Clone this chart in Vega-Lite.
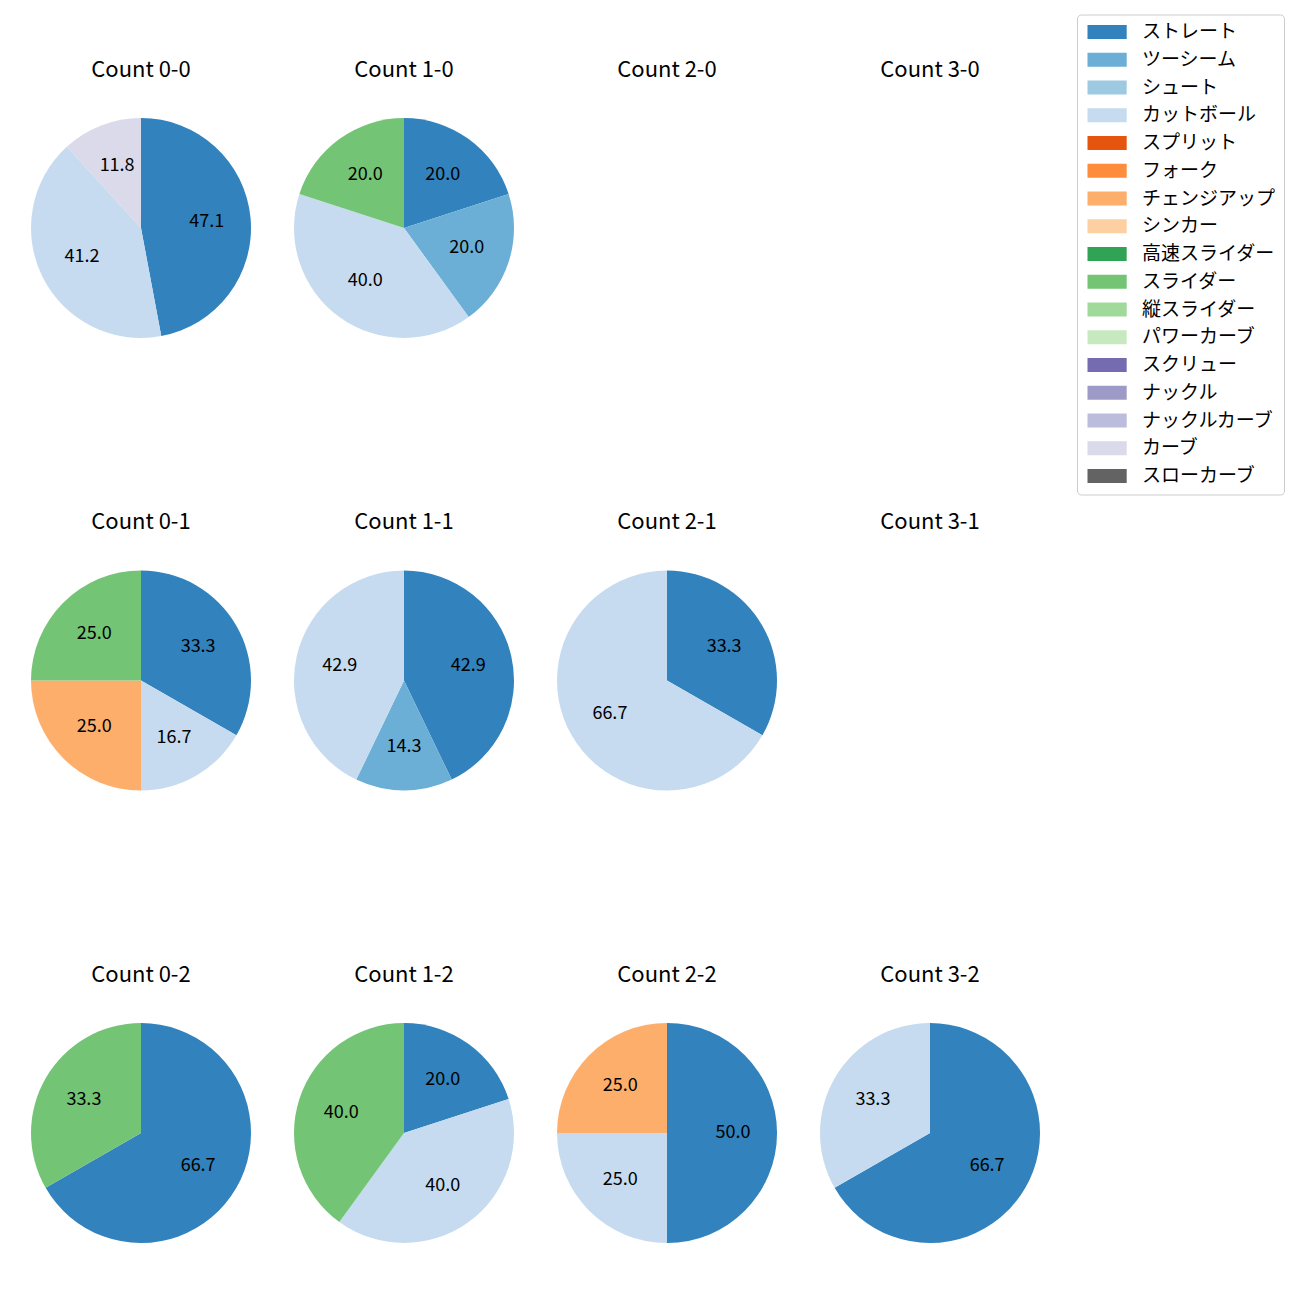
{
  "$schema": "https://vega.github.io/schema/vega-lite/v6.json",
  "padding": {"left": 30, "top": 14, "right": 0, "bottom": 0},
  "background": "white",
  "datasets": {
    "c00": [
      {"pitch": "ストレート", "idx": 0, "pct": 47.1},
      {"pitch": "カットボール", "idx": 3, "pct": 41.2},
      {"pitch": "カーブ", "idx": 15, "pct": 11.8}
    ],
    "c10": [
      {"pitch": "ストレート", "idx": 0, "pct": 20.0},
      {"pitch": "ツーシーム", "idx": 1, "pct": 20.0},
      {"pitch": "カットボール", "idx": 3, "pct": 40.0},
      {"pitch": "スライダー", "idx": 9, "pct": 20.0}
    ],
    "c20": [],
    "c30": [],
    "c01": [
      {"pitch": "ストレート", "idx": 0, "pct": 33.3},
      {"pitch": "カットボール", "idx": 3, "pct": 16.7},
      {"pitch": "チェンジアップ", "idx": 6, "pct": 25.0},
      {"pitch": "スライダー", "idx": 9, "pct": 25.0}
    ],
    "c11": [
      {"pitch": "ストレート", "idx": 0, "pct": 42.9},
      {"pitch": "ツーシーム", "idx": 1, "pct": 14.3},
      {"pitch": "カットボール", "idx": 3, "pct": 42.9}
    ],
    "c21": [
      {"pitch": "ストレート", "idx": 0, "pct": 33.3},
      {"pitch": "カットボール", "idx": 3, "pct": 66.7}
    ],
    "c31": [],
    "c02": [
      {"pitch": "ストレート", "idx": 0, "pct": 66.7},
      {"pitch": "スライダー", "idx": 9, "pct": 33.3}
    ],
    "c12": [
      {"pitch": "ストレート", "idx": 0, "pct": 20.0},
      {"pitch": "カットボール", "idx": 3, "pct": 40.0},
      {"pitch": "スライダー", "idx": 9, "pct": 40.0}
    ],
    "c22": [
      {"pitch": "ストレート", "idx": 0, "pct": 50.0},
      {"pitch": "カットボール", "idx": 3, "pct": 25.0},
      {"pitch": "チェンジアップ", "idx": 6, "pct": 25.0}
    ],
    "c32": [
      {"pitch": "ストレート", "idx": 0, "pct": 66.7},
      {"pitch": "カットボール", "idx": 3, "pct": 33.3}
    ]
  },
  "columns": 4,
  "spacing": {"column": 41, "row": 171.5},
  "resolve": {"scale": {"theta": "independent"}},
  "concat": [
    {"title": "Count 0-0", "data": {"name": "c00"}, "width": 222, "height": 222, "layer": [
      {"mark": {"type": "arc", "outerRadius": 110}, "encoding": {"theta": {"field": "pct", "type": "quantitative", "stack": true}, "order": {"field": "idx", "type": "quantitative"}, "color": {"field": "pitch", "type": "nominal", "scale": {"domain": ["ストレート","ツーシーム","シュート","カットボール","スプリット","フォーク","チェンジアップ","シンカー","高速スライダー","スライダー","縦スライダー","パワーカーブ","スクリュー","ナックル","ナックルカーブ","カーブ","スローカーブ"], "range": ["#3182bd","#6baed6","#9ecae1","#c6dbef","#e6550d","#fd8d3c","#fdae6b","#fdd0a2","#31a354","#74c476","#a1d99b","#c7e9c0","#756bb1","#9e9ac8","#bcbddc","#dadaeb","#636363"]}}}},
      {"mark": {"type": "text", "radius": 66}, "encoding": {"theta": {"field": "pct", "type": "quantitative", "stack": true}, "order": {"field": "idx", "type": "quantitative"}, "text": {"field": "pct", "type": "quantitative", "format": ".1f"}}}
    ]},
    {"title": "Count 1-0", "data": {"name": "c10"}, "width": 222, "height": 222, "layer": [
      {"mark": {"type": "arc", "outerRadius": 110}, "encoding": {"theta": {"field": "pct", "type": "quantitative", "stack": true}, "order": {"field": "idx", "type": "quantitative"}, "color": {"field": "pitch", "type": "nominal", "scale": {"domain": ["ストレート","ツーシーム","シュート","カットボール","スプリット","フォーク","チェンジアップ","シンカー","高速スライダー","スライダー","縦スライダー","パワーカーブ","スクリュー","ナックル","ナックルカーブ","カーブ","スローカーブ"], "range": ["#3182bd","#6baed6","#9ecae1","#c6dbef","#e6550d","#fd8d3c","#fdae6b","#fdd0a2","#31a354","#74c476","#a1d99b","#c7e9c0","#756bb1","#9e9ac8","#bcbddc","#dadaeb","#636363"]}}}},
      {"mark": {"type": "text", "radius": 66}, "encoding": {"theta": {"field": "pct", "type": "quantitative", "stack": true}, "order": {"field": "idx", "type": "quantitative"}, "text": {"field": "pct", "type": "quantitative", "format": ".1f"}}}
    ]},
    {"title": "Count 2-0", "data": {"name": "c20"}, "width": 222, "height": 222, "layer": [
      {"mark": {"type": "arc", "outerRadius": 110}, "encoding": {"theta": {"field": "pct", "type": "quantitative", "stack": true}, "order": {"field": "idx", "type": "quantitative"}, "color": {"field": "pitch", "type": "nominal", "scale": {"domain": ["ストレート","ツーシーム","シュート","カットボール","スプリット","フォーク","チェンジアップ","シンカー","高速スライダー","スライダー","縦スライダー","パワーカーブ","スクリュー","ナックル","ナックルカーブ","カーブ","スローカーブ"], "range": ["#3182bd","#6baed6","#9ecae1","#c6dbef","#e6550d","#fd8d3c","#fdae6b","#fdd0a2","#31a354","#74c476","#a1d99b","#c7e9c0","#756bb1","#9e9ac8","#bcbddc","#dadaeb","#636363"]}}}}
    ]},
    {"title": "Count 3-0", "data": {"name": "c30"}, "width": 222, "height": 222, "layer": [
      {"mark": {"type": "arc", "outerRadius": 110}, "encoding": {"theta": {"field": "pct", "type": "quantitative", "stack": true}, "order": {"field": "idx", "type": "quantitative"}, "color": {"field": "pitch", "type": "nominal", "scale": {"domain": ["ストレート","ツーシーム","シュート","カットボール","スプリット","フォーク","チェンジアップ","シンカー","高速スライダー","スライダー","縦スライダー","パワーカーブ","スクリュー","ナックル","ナックルカーブ","カーブ","スローカーブ"], "range": ["#3182bd","#6baed6","#9ecae1","#c6dbef","#e6550d","#fd8d3c","#fdae6b","#fdd0a2","#31a354","#74c476","#a1d99b","#c7e9c0","#756bb1","#9e9ac8","#bcbddc","#dadaeb","#636363"]}}}}
    ]},
    {"title": "Count 0-1", "data": {"name": "c01"}, "width": 222, "height": 222, "layer": [
      {"mark": {"type": "arc", "outerRadius": 110}, "encoding": {"theta": {"field": "pct", "type": "quantitative", "stack": true}, "order": {"field": "idx", "type": "quantitative"}, "color": {"field": "pitch", "type": "nominal", "scale": {"domain": ["ストレート","ツーシーム","シュート","カットボール","スプリット","フォーク","チェンジアップ","シンカー","高速スライダー","スライダー","縦スライダー","パワーカーブ","スクリュー","ナックル","ナックルカーブ","カーブ","スローカーブ"], "range": ["#3182bd","#6baed6","#9ecae1","#c6dbef","#e6550d","#fd8d3c","#fdae6b","#fdd0a2","#31a354","#74c476","#a1d99b","#c7e9c0","#756bb1","#9e9ac8","#bcbddc","#dadaeb","#636363"]}}}},
      {"mark": {"type": "text", "radius": 66}, "encoding": {"theta": {"field": "pct", "type": "quantitative", "stack": true}, "order": {"field": "idx", "type": "quantitative"}, "text": {"field": "pct", "type": "quantitative", "format": ".1f"}}}
    ]},
    {"title": "Count 1-1", "data": {"name": "c11"}, "width": 222, "height": 222, "layer": [
      {"mark": {"type": "arc", "outerRadius": 110}, "encoding": {"theta": {"field": "pct", "type": "quantitative", "stack": true}, "order": {"field": "idx", "type": "quantitative"}, "color": {"field": "pitch", "type": "nominal", "scale": {"domain": ["ストレート","ツーシーム","シュート","カットボール","スプリット","フォーク","チェンジアップ","シンカー","高速スライダー","スライダー","縦スライダー","パワーカーブ","スクリュー","ナックル","ナックルカーブ","カーブ","スローカーブ"], "range": ["#3182bd","#6baed6","#9ecae1","#c6dbef","#e6550d","#fd8d3c","#fdae6b","#fdd0a2","#31a354","#74c476","#a1d99b","#c7e9c0","#756bb1","#9e9ac8","#bcbddc","#dadaeb","#636363"]}}}},
      {"mark": {"type": "text", "radius": 66}, "encoding": {"theta": {"field": "pct", "type": "quantitative", "stack": true}, "order": {"field": "idx", "type": "quantitative"}, "text": {"field": "pct", "type": "quantitative", "format": ".1f"}}}
    ]},
    {"title": "Count 2-1", "data": {"name": "c21"}, "width": 222, "height": 222, "layer": [
      {"mark": {"type": "arc", "outerRadius": 110}, "encoding": {"theta": {"field": "pct", "type": "quantitative", "stack": true}, "order": {"field": "idx", "type": "quantitative"}, "color": {"field": "pitch", "type": "nominal", "scale": {"domain": ["ストレート","ツーシーム","シュート","カットボール","スプリット","フォーク","チェンジアップ","シンカー","高速スライダー","スライダー","縦スライダー","パワーカーブ","スクリュー","ナックル","ナックルカーブ","カーブ","スローカーブ"], "range": ["#3182bd","#6baed6","#9ecae1","#c6dbef","#e6550d","#fd8d3c","#fdae6b","#fdd0a2","#31a354","#74c476","#a1d99b","#c7e9c0","#756bb1","#9e9ac8","#bcbddc","#dadaeb","#636363"]}}}},
      {"mark": {"type": "text", "radius": 66}, "encoding": {"theta": {"field": "pct", "type": "quantitative", "stack": true}, "order": {"field": "idx", "type": "quantitative"}, "text": {"field": "pct", "type": "quantitative", "format": ".1f"}}}
    ]},
    {"title": "Count 3-1", "data": {"name": "c31"}, "width": 222, "height": 222, "layer": [
      {"mark": {"type": "arc", "outerRadius": 110}, "encoding": {"theta": {"field": "pct", "type": "quantitative", "stack": true}, "order": {"field": "idx", "type": "quantitative"}, "color": {"field": "pitch", "type": "nominal", "scale": {"domain": ["ストレート","ツーシーム","シュート","カットボール","スプリット","フォーク","チェンジアップ","シンカー","高速スライダー","スライダー","縦スライダー","パワーカーブ","スクリュー","ナックル","ナックルカーブ","カーブ","スローカーブ"], "range": ["#3182bd","#6baed6","#9ecae1","#c6dbef","#e6550d","#fd8d3c","#fdae6b","#fdd0a2","#31a354","#74c476","#a1d99b","#c7e9c0","#756bb1","#9e9ac8","#bcbddc","#dadaeb","#636363"]}}}}
    ]},
    {"title": "Count 0-2", "data": {"name": "c02"}, "width": 222, "height": 222, "layer": [
      {"mark": {"type": "arc", "outerRadius": 110}, "encoding": {"theta": {"field": "pct", "type": "quantitative", "stack": true}, "order": {"field": "idx", "type": "quantitative"}, "color": {"field": "pitch", "type": "nominal", "scale": {"domain": ["ストレート","ツーシーム","シュート","カットボール","スプリット","フォーク","チェンジアップ","シンカー","高速スライダー","スライダー","縦スライダー","パワーカーブ","スクリュー","ナックル","ナックルカーブ","カーブ","スローカーブ"], "range": ["#3182bd","#6baed6","#9ecae1","#c6dbef","#e6550d","#fd8d3c","#fdae6b","#fdd0a2","#31a354","#74c476","#a1d99b","#c7e9c0","#756bb1","#9e9ac8","#bcbddc","#dadaeb","#636363"]}}}},
      {"mark": {"type": "text", "radius": 66}, "encoding": {"theta": {"field": "pct", "type": "quantitative", "stack": true}, "order": {"field": "idx", "type": "quantitative"}, "text": {"field": "pct", "type": "quantitative", "format": ".1f"}}}
    ]},
    {"title": "Count 1-2", "data": {"name": "c12"}, "width": 222, "height": 222, "layer": [
      {"mark": {"type": "arc", "outerRadius": 110}, "encoding": {"theta": {"field": "pct", "type": "quantitative", "stack": true}, "order": {"field": "idx", "type": "quantitative"}, "color": {"field": "pitch", "type": "nominal", "scale": {"domain": ["ストレート","ツーシーム","シュート","カットボール","スプリット","フォーク","チェンジアップ","シンカー","高速スライダー","スライダー","縦スライダー","パワーカーブ","スクリュー","ナックル","ナックルカーブ","カーブ","スローカーブ"], "range": ["#3182bd","#6baed6","#9ecae1","#c6dbef","#e6550d","#fd8d3c","#fdae6b","#fdd0a2","#31a354","#74c476","#a1d99b","#c7e9c0","#756bb1","#9e9ac8","#bcbddc","#dadaeb","#636363"]}}}},
      {"mark": {"type": "text", "radius": 66}, "encoding": {"theta": {"field": "pct", "type": "quantitative", "stack": true}, "order": {"field": "idx", "type": "quantitative"}, "text": {"field": "pct", "type": "quantitative", "format": ".1f"}}}
    ]},
    {"title": "Count 2-2", "data": {"name": "c22"}, "width": 222, "height": 222, "layer": [
      {"mark": {"type": "arc", "outerRadius": 110}, "encoding": {"theta": {"field": "pct", "type": "quantitative", "stack": true}, "order": {"field": "idx", "type": "quantitative"}, "color": {"field": "pitch", "type": "nominal", "scale": {"domain": ["ストレート","ツーシーム","シュート","カットボール","スプリット","フォーク","チェンジアップ","シンカー","高速スライダー","スライダー","縦スライダー","パワーカーブ","スクリュー","ナックル","ナックルカーブ","カーブ","スローカーブ"], "range": ["#3182bd","#6baed6","#9ecae1","#c6dbef","#e6550d","#fd8d3c","#fdae6b","#fdd0a2","#31a354","#74c476","#a1d99b","#c7e9c0","#756bb1","#9e9ac8","#bcbddc","#dadaeb","#636363"]}}}},
      {"mark": {"type": "text", "radius": 66}, "encoding": {"theta": {"field": "pct", "type": "quantitative", "stack": true}, "order": {"field": "idx", "type": "quantitative"}, "text": {"field": "pct", "type": "quantitative", "format": ".1f"}}}
    ]},
    {"title": "Count 3-2", "data": {"name": "c32"}, "width": 222, "height": 222, "layer": [
      {"mark": {"type": "arc", "outerRadius": 110}, "encoding": {"theta": {"field": "pct", "type": "quantitative", "stack": true}, "order": {"field": "idx", "type": "quantitative"}, "color": {"field": "pitch", "type": "nominal", "scale": {"domain": ["ストレート","ツーシーム","シュート","カットボール","スプリット","フォーク","チェンジアップ","シンカー","高速スライダー","スライダー","縦スライダー","パワーカーブ","スクリュー","ナックル","ナックルカーブ","カーブ","スローカーブ"], "range": ["#3182bd","#6baed6","#9ecae1","#c6dbef","#e6550d","#fd8d3c","#fdae6b","#fdd0a2","#31a354","#74c476","#a1d99b","#c7e9c0","#756bb1","#9e9ac8","#bcbddc","#dadaeb","#636363"]}}}},
      {"mark": {"type": "text", "radius": 66}, "encoding": {"theta": {"field": "pct", "type": "quantitative", "stack": true}, "order": {"field": "idx", "type": "quantitative"}, "text": {"field": "pct", "type": "quantitative", "format": ".1f"}}}
    ]}
  ],
  "config": {
    "font": "Noto Sans CJK JP",
    "view": {"stroke": null},
    "title": {"fontSize": 22, "fontWeight": "normal", "color": "#000000", "offset": 35.5, "font": "Noto Sans CJK JP"},
    "text": {"fontSize": 18, "color": "#000000", "font": "Noto Sans CJK JP"},
    "arc": {"stroke": null},
    "legend": {
      "orient": "none",
      "legendX": 1047,
      "legendY": -102.5,
      "title": null,
      "labelFont": "Noto Sans CJK JP",
      "labelFontSize": 19,
      "labelColor": "#000000",
      "labelLimit": 220,
      "symbolType": "M-1,-1L4.6,-1L4.6,1L-1,1Z",
      "symbolSize": 196,
      "symbolOpacity": 1,
      "symbolStrokeWidth": 0,
      "labelOffset": 38,
      "rowPadding": 7.75,
      "padding": 8,
      "strokeColor": "#cccccc",
      "fillColor": "#ffffff",
      "cornerRadius": 4
    }
  }
}
